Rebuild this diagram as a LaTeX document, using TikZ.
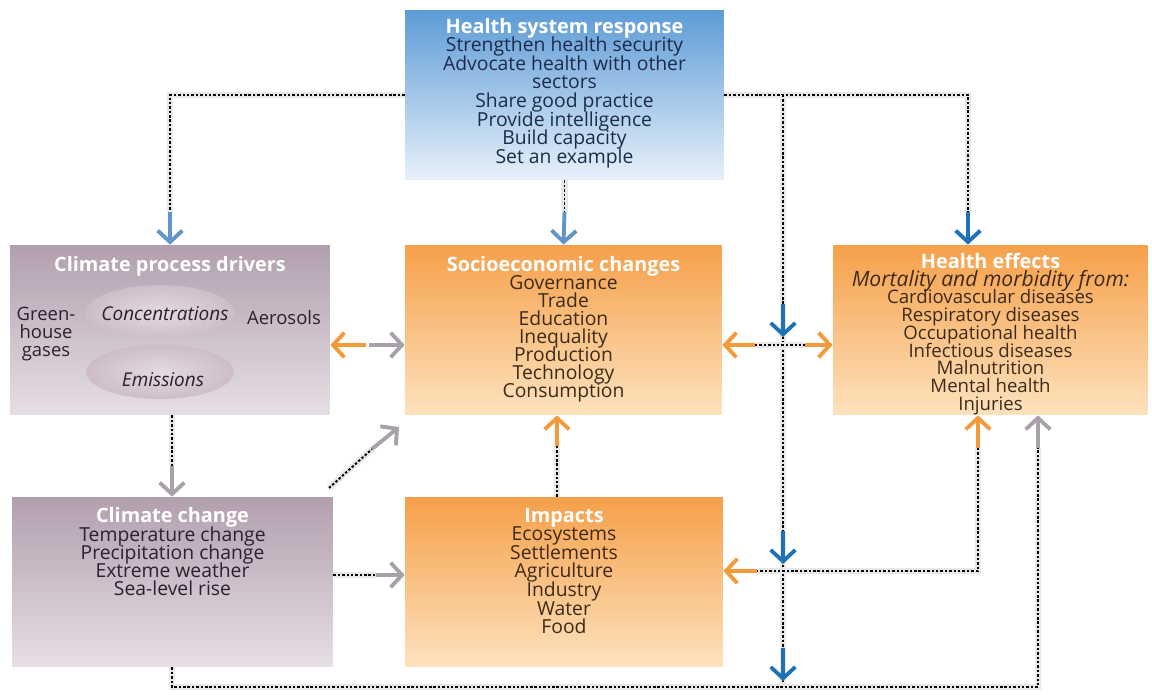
\documentclass[tikz,border=0pt]{standalone}
\usepackage{fontspec}
\setmainfont{Open Sans}
\usetikzlibrary{arrows.meta,shapes.geometric}

\definecolor{hsrtop}{HTML}{5D9BD6}
\definecolor{hsrbot}{HTML}{E8F1FA}
\definecolor{orgtop}{HTML}{F6A04A}
\definecolor{orgbot}{HTML}{FDE2BE}
\definecolor{mautop}{HTML}{B29FAE}
\definecolor{maubot}{HTML}{E6DFE4}
\definecolor{navytext}{HTML}{1C2B4C}
\definecolor{browntext}{HTML}{3D2B1A}
\definecolor{mautext}{HTML}{2A2030}
\definecolor{arrblue}{HTML}{1F72B8}
\definecolor{arrltblue}{HTML}{5F95C9}
\definecolor{arrorange}{HTML}{F39A3B}
\definecolor{arrgrey}{HTML}{A9A1AA}
\definecolor{ellin}{HTML}{E4DAE1}
\definecolor{ellout}{HTML}{CDBDC8}

% fixed-baseline text: size, baseline distance
\newcommand{\pfont}[2]{\fontsize{#1}{#2}\selectfont\lineskiplimit=-30pt\lineskip=0pt}
\newcommand{\panelhd}[1]{\textcolor{white}{\fontsize{11.3}{10.5}\selectfont\bfseries #1}}

\tikzset{
  panel/.style={rectangle, draw=none, inner sep=0pt, minimum height=3.4cm},
  bluepanel/.style={panel, top color=hsrtop, bottom color=hsrbot},
  orangepanel/.style={panel, top color=orgtop, bottom color=orgbot},
  mauvepanel/.style={panel, top color=mautop, bottom color=maubot},
  panelhead/.style={font=\pfont{11.3}{10.5}\bfseries, text=white, inner sep=0pt},
  paneltext/.style={align=center, inner sep=0pt},
  dotline/.style={preaction={draw=gray!18, line width=3.5pt, solid},
    draw=black, line width=1.1pt, dash pattern=on 1.4pt off 1.1pt},
  arrowbase/.style={line width=2.2pt, -{Straight Barb[length=6.5pt,width=14pt]}},
  bluearrow/.style={arrowbase, draw=arrblue},
  ltbluearrow/.style={arrowbase, draw=arrltblue},
  orangearrow/.style={arrowbase, draw=arrorange},
  greyarrow/.style={arrowbase, draw=arrgrey},
  driver/.style={ellipse, draw=none, inner color=ellin, outer color=ellout,
    minimum width=2.95cm, minimum height=1.08cm, inner sep=0pt},
}

\begin{document}
\begin{tikzpicture}[x=0.02cm, y=-0.02cm]
\useasboundingbox[fill=white] (0,0) rectangle (1152,695);

% ---- panels ----
\node[bluepanel, minimum width=6.38cm] (hsr) at (564.5,95) {};
\node[mauvepanel, minimum width=6.4cm] (cpd) at (170,330) {};
\node[orangepanel, minimum width=6.34cm] (sec) at (563.5,330) {};
\node[orangepanel, minimum width=6.3cm] (he) at (990.5,330) {};
\node[mauvepanel, minimum width=6.42cm] (cc) at (172.5,582) {};
\node[orangepanel, minimum width=6.36cm] (imp) at (564,582) {};

% ---- panel texts ----
\node[paneltext, text=navytext, font=\pfont{11}{10.55}] (hsrtext) at (564.5,93)
  {\panelhd{Health system response}\\
   Strengthen health security\\ Advocate health with other\\ sectors\\
   Share good practice\\ Provide intelligence\\ Build capacity\\ Set an example};

\node[panelhead] (cpdtitle) at (170,266) {Climate process drivers};
\node[driver] (conc) at (160,312) {};
\node[driver] (emis) at (160,372) {};
\node[inner sep=0pt, text=mautext, font=\pfont{10.8}{10}\itshape] (conctext) at (165,314) {Concentrations};
\node[inner sep=0pt, text=mautext, font=\pfont{10.8}{10}\itshape] (emistext) at (163,380) {Emissions};
\node[paneltext, text=mautext, font=\pfont{10.5}{10.2}] (ghg) at (46,334) {Green-\\house\\gases};
\node[inner sep=0pt, text=mautext, font=\pfont{10.5}{10}] (aer) at (284,318) {Aerosols};

\node[paneltext, text=browntext, font=\pfont{11}{10.25}] (sectext) at (563.5,329)
  {\panelhd{Socioeconomic changes}\\
   Governance\\ Trade\\ Education\\ Inequality\\ Production\\ Technology\\ Consumption};

\node[paneltext, text=browntext, font=\pfont{10.6}{10.1}] (hetext) at (990.5,334)
  {\panelhd{Health effects}\\
   {\fontsize{12}{10.1}\selectfont\itshape Mortality and morbidity from:}\\
   Cardiovascular diseases\\ Respiratory diseases\\ Occupational health\\
   Infectious diseases\\ Malnutrition\\ Mental health\\ Injuries};

\node[paneltext, text=mautext, font=\pfont{11}{10.4}] (cctext) at (172.5,552)
  {\panelhd{Climate change}\\
   Temperature change\\ Precipitation change\\ Extreme weather\\ Sea-level rise};

\node[paneltext, text=browntext, font=\pfont{11}{10.6}] (imptext) at (564,571)
  {\panelhd{Impacts}\\
   Ecosystems\\ Settlements\\ Agriculture\\ Industry\\ Water\\ Food};

% ---- junction points ----
\coordinate (j1) at (170,212);
\coordinate (j2) at (564.5,212);
\coordinate (j3) at (968,212);
\coordinate (trunktop) at (783,95);
\coordinate (trunkbot) at (783,687);
\coordinate (s1) at (755,345);
\coordinate (s2) at (805,345);
\coordinate (d1) at (366,345);
\coordinate (d2) at (369,345);
\coordinate (j7) at (172,466);
\coordinate (diag0) at (329,488);
\coordinate (diag1) at (372,449);
\coordinate (diag2) at (399,427);
\coordinate (j9) at (557,446);
\coordinate (j10) at (376,575);
\coordinate (hi0) at (978,571);
\coordinate (hi1) at (757,571);
\coordinate (hi2) at (978,448);
\coordinate (ch0) at (172,687);
\coordinate (ch1) at (1038,687);
\coordinate (ch2) at (1038,448);

% ---- dotted connectors ----
\draw[dotline] (hsr.west) -| (j1);
\draw[dotline] (hsr.south) -- (j2);
\draw[dotline] (hsr.east) -| (j3);
\draw[dotline] (trunktop) -- (trunkbot);
\draw[dotline] (s1) -- (s2);
\draw[dotline] (cpd.south -| j7) -- (j7);
\draw[dotline] (diag0) -- (diag1);
\draw[dotline] (imp.north -| j9) -- (j9);
\draw[dotline] (cc.east |- j10) -- (j10);
\draw[dotline] (hi2) -- (hi0) -- (hi1);
\draw[dotline] (cc.south -| ch0) -- (ch0) -- (ch1) -- (ch2);

% ---- arrow heads ----
\draw[ltbluearrow] (j1) -- (cpd.north -| j1);
\draw[ltbluearrow] (j2) -- (sec.north);
\draw[bluearrow] (j3) -- (he.north -| j3);
\draw[bluearrow] (783,304) -- (783,337);
\draw[bluearrow] (783,531) -- (783,564);
\draw[bluearrow] (783,648) -- (783,681);
\draw[orangearrow] (s1) -- (sec.east |- s1);
\draw[orangearrow] (s2) -- (he.west |- s2);
\draw[orangearrow] (d1) -- (cpd.east |- d1);
\draw[greyarrow] (d2) -- (sec.west |- d2);
\draw[greyarrow] (j7) -- (cc.north -| j7);
\draw[greyarrow] (diag1) -- (diag2);
\draw[orangearrow] (j9) -- (sec.south -| j9);
\draw[greyarrow] (j10) -- (imp.west |- j10);
\draw[orangearrow] (hi1) -- (imp.east |- hi1);
\draw[orangearrow] (hi2) -- (he.south -| hi2);
\draw[greyarrow] (ch2) -- (he.south -| ch2);
\end{tikzpicture}
\end{document}
